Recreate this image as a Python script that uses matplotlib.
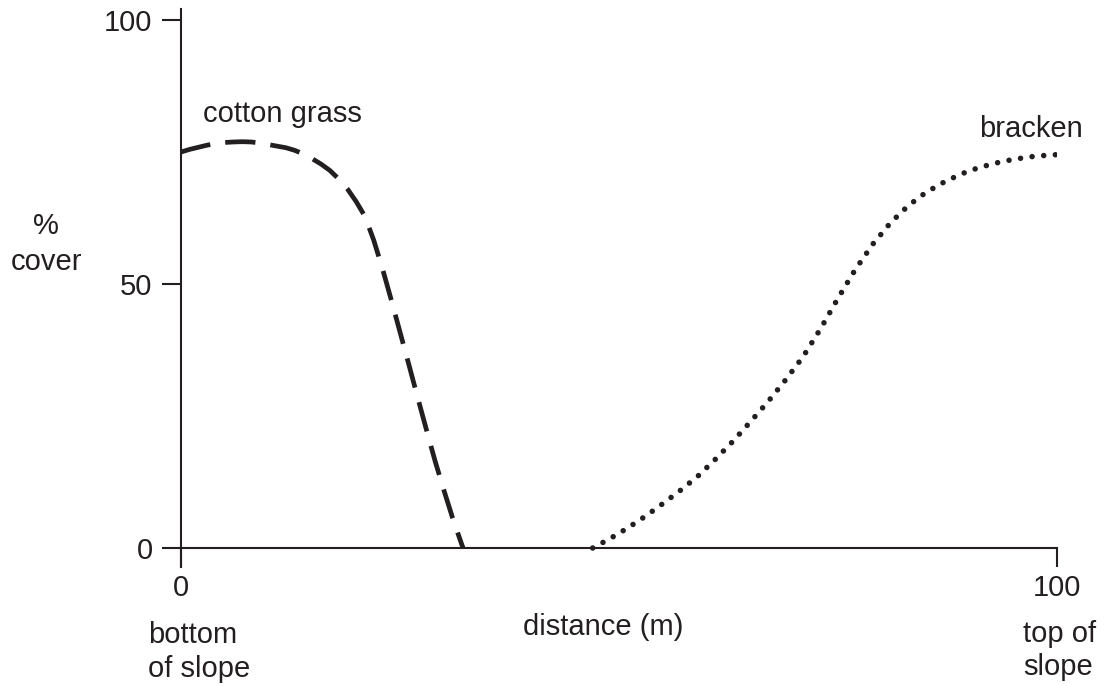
import matplotlib
matplotlib.use("Agg")
import matplotlib.pyplot as plt

# ---- data ----
cotton_x = [0, 1, 2, 3, 4, 5, 6, 7, 8, 9, 10, 11, 12, 13, 14, 15, 16, 17, 18, 19, 20,
            21, 22, 23, 24, 25, 26, 27, 28, 29, 30, 31, 32, 32.2]
cotton_y = [75.0, 75.5, 75.9, 76.3, 76.6, 76.8, 76.9, 76.95, 76.9, 76.7, 76.4, 76.1, 75.8,
            75.3, 74.6, 73.7, 72.7, 71.5, 69.9, 68.0, 65.6, 62.8, 58.3, 52.9, 47.0, 40.9,
            34.8, 28.6, 22.5, 16.5, 11.0, 5.7, 0.9, 0.0]

bracken_x = [47, 49, 51, 53, 55, 57, 59, 61, 63, 65, 67, 69, 71, 73, 75, 77, 79, 81, 83,
             85, 87, 89, 91, 93, 95, 97, 99, 100]
bracken_y = [0.0, 1.8, 3.8, 6.0, 8.4, 10.9, 13.6, 16.8, 20.2, 23.9, 27.7, 31.8, 36.2, 41.5,
             47.3, 52.8, 57.6, 61.6, 64.8, 67.3, 69.2, 70.8, 72.0, 72.9, 73.6, 74.1, 74.4, 74.5]

x_ticks = [0, 100]
y_ticks = [0, 50, 100]
x_ticklabels = ["0", "100"]
y_ticklabels = ["0", "50", "100"]

INK = "#231f20"
W, H = 1104, 686
FS = 21

plt.rcParams['font.family'] = ['Liberation Sans', 'DejaVu Sans']
plt.rcParams['font.size'] = FS

fig = plt.figure(figsize=(W / 100, H / 100), dpi=100)
ax = fig.add_axes([181 / W, 1 - 567 / H, 876 / W, (567 - 9.44) / H])
ax.set_xlim(0, 100)
ax.set_ylim(-3.6, 102)

ax.plot(cotton_x, cotton_y, color=INK, lw=3.4, dashes=(6.4, 3.2),
        dash_capstyle='butt', solid_capstyle='butt', solid_joinstyle='round')
ax.plot(bracken_x, bracken_y, color=INK, lw=4.0, dashes=(0.001, 2.1),
        dash_capstyle='round', solid_joinstyle='round')

for s in ['top', 'right']:
    ax.spines[s].set_visible(False)
ax.spines['bottom'].set_position(('data', 0))
for s in ['left', 'bottom']:
    ax.spines[s].set_linewidth(1.5)
    ax.spines[s].set_color(INK)

ax.set_xticks(x_ticks)
ax.set_xticklabels(x_ticklabels)
ax.set_yticks(y_ticks)
ax.set_yticklabels(y_ticklabels)
ax.tick_params(axis='x', direction='out', length=13.7, width=1.5, color=INK, pad=5,
               labelsize=FS, labelcolor=INK)
ax.tick_params(axis='y', direction='out', length=13.5, width=1.5, color=INK, pad=7,
               labelsize=FS, labelcolor=INK)

# in-plot labels
ax.text(2.5, 80.7, "cotton grass", ha='left', va='baseline', color=INK, fontsize=FS)
ax.text(102.9, 77.8, "bracken", ha='right', va='baseline', color=INK, fontsize=FS)

def ftext(px, py, s, **kw):
    fig.text(px / W, 1 - py / H, s, color=INK, fontsize=FS, va='baseline', **kw)

ftext(46, 234, "%", ha='center')
ftext(46, 270, "cover", ha='center')
ftext(148, 643, "bottom", ha='left')
ftext(148, 677, "of slope", ha='left')
ftext(603, 635, "distance (m)", ha='center')
ftext(1023, 642, "top of", ha='left')
ftext(1023, 675, "slope", ha='left')

fig.savefig("out.png", dpi=100)
